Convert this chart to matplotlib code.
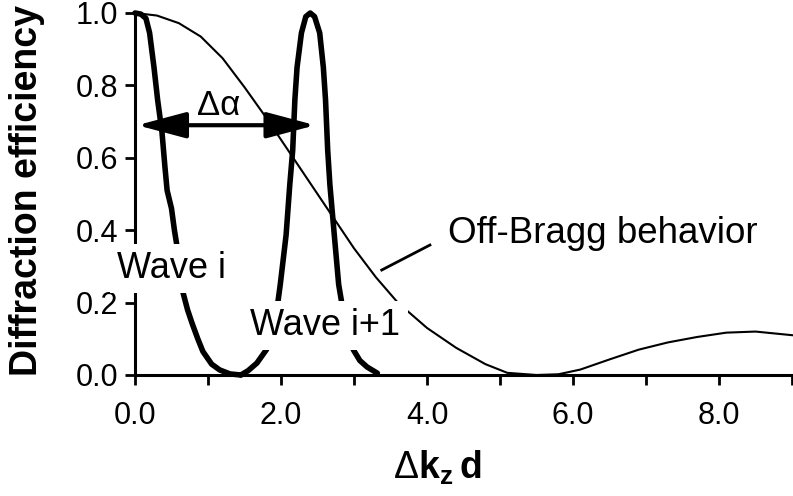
import numpy as np
import matplotlib
matplotlib.use("Agg")
import matplotlib.pyplot as plt

# --------------------------
# Data
# --------------------------
x_bragg = [0, 0.3, 0.6, 0.9, 1.2, 1.5, 1.8, 2.1, 2.4, 2.7, 3.0, 3.3, 3.6, 4.0,
           4.4, 4.8, 5.1, 5.5, 5.8, 6.1, 6.5, 6.9, 7.3, 7.7, 8.1, 8.5, 9.0]
y_bragg = [1.0, 0.993, 0.972, 0.935, 0.875, 0.795, 0.71, 0.62, 0.53, 0.44, 0.35, 0.27,
           0.20, 0.13, 0.075, 0.03, 0.006, 0.0, 0.002, 0.015, 0.043, 0.07, 0.09,
           0.105, 0.117, 0.12, 0.11]

x_wave_i = [0, 0.08, 0.15, 0.2, 0.26, 0.31, 0.37, 0.41, 0.44, 0.5, 0.54, 0.58, 0.62,
            0.66, 0.72, 0.78, 0.86, 0.93, 1.05, 1.16, 1.3, 1.45]
y_wave_i = [1.0, 0.997, 0.985, 0.945, 0.85, 0.76, 0.67, 0.575, 0.51, 0.46, 0.40, 0.35,
            0.29, 0.226, 0.18, 0.144, 0.10, 0.065, 0.03, 0.014, 0.003, 0.0]

x_wave_i1 = [1.45, 1.55, 1.67, 1.8, 1.95, 1.99, 2.07, 2.12, 2.16, 2.19, 2.22, 2.28,
             2.34, 2.40, 2.46, 2.53, 2.58, 2.61, 2.64, 2.67, 2.73, 2.79, 2.84, 2.99,
             3.08, 3.18, 3.32]
y_wave_i1 = [0.0, 0.012, 0.033, 0.07, 0.19, 0.25, 0.387, 0.525, 0.62, 0.76, 0.85, 0.945,
             0.99, 1.0, 0.99, 0.945, 0.85, 0.76, 0.62, 0.525, 0.387, 0.25, 0.19, 0.07,
             0.04, 0.022, 0.005]

x_ticks = [0, 2, 4, 6, 8]
x_tick_labels = ["0.0", "2.0", "4.0", "6.0", "8.0"]
y_ticks = [0.0, 0.2, 0.4, 0.6, 0.8, 1.0]
y_tick_labels = ["0.0", "0.2", "0.4", "0.6", "0.8", "1.0"]

# width of angular selectivity (arrow ends) and leader line of the label
delta_alpha_x = [0.03, 2.47]
delta_alpha_y = 0.69
leader_x = [3.38, 4.04]
leader_y = [0.29, 0.359]

# --------------------------
# Style
# --------------------------
plt.rcParams['font.family'] = ['Liberation Sans', 'DejaVu Sans']
plt.rcParams['mathtext.fontset'] = 'custom'
plt.rcParams['mathtext.rm'] = 'Liberation Sans'
plt.rcParams['mathtext.bf'] = 'Liberation Sans:bold'

fig = plt.figure(figsize=(7.93, 4.96), dpi=100)
ax = fig.add_axes([135 / 793, 1 - 375 / 496, 657 / 793, 362 / 496])

# --------------------------
# Curves
# --------------------------
ax.plot(x_bragg, y_bragg, color='k', lw=1.5, clip_on=False, zorder=3)
ax.plot(x_wave_i, y_wave_i, color='k', lw=4, clip_on=False, zorder=3,
        solid_capstyle='round')
ax.plot(x_wave_i1, y_wave_i1, color='k', lw=4, clip_on=False, zorder=3,
        solid_capstyle='round')

ax.annotate('', xy=(delta_alpha_x[0], delta_alpha_y),
            xytext=(delta_alpha_x[1], delta_alpha_y),
            arrowprops=dict(arrowstyle='<|-|>,head_length=3.0,head_width=0.8',
                            mutation_scale=10, lw=3, color='k',
                            shrinkA=0, shrinkB=0),
            zorder=4)
ax.text(1.14, 0.745, 'Δα', fontsize=25, ha='center', va='center')

ax.plot(leader_x, leader_y, color='k', lw=2, zorder=3)

box = dict(boxstyle='square,pad=0.2', fc='white', ec='none')
ax.text(-0.25, 0.268, 'Wave i', fontsize=26, ha='left', va='baseline',
        bbox=box, zorder=6, clip_on=False)
ax.text(1.58, 0.11, 'Wave i+1', fontsize=26, ha='left', va='baseline',
        bbox=box, zorder=6, clip_on=False)
ax.text(4.29, 0.365, 'Off-Bragg behavior', fontsize=26.5, ha='left', va='baseline',
        zorder=6)

# --------------------------
# Axes
# --------------------------
ax.set_xlim(0, 9.0)
ax.set_ylim(0, 1.0)
ax.set_xticks(x_ticks)
ax.set_xticklabels(x_tick_labels)
ax.set_xticks([1, 3, 5, 7, 9], minor=True)
ax.set_yticks(y_ticks)
ax.set_yticklabels(y_tick_labels)

for side in ['top', 'right']:
    ax.spines[side].set_visible(False)
for side in ['left', 'bottom']:
    ax.spines[side].set_linewidth(2.2)
    ax.spines[side].set_zorder(2)

ax.tick_params(axis='both', which='both', direction='out', length=7, width=2,
               labelsize=22)
ax.tick_params(axis='x', which='both', pad=12)
ax.tick_params(axis='y', pad=5)

fig.text(27 / 793, 1 - 191 / 496, 'Diffraction efficiency', rotation=90,
         fontsize=27, fontweight='bold', ha='center', va='center')
fig.text(437 / 793, 1 - 468 / 496, r'$\Delta\mathbf{k}_{\mathbf{z}}\,\mathbf{d}$',
         fontsize=27, ha='center', va='center')

fig.savefig('out.png', dpi=100)
